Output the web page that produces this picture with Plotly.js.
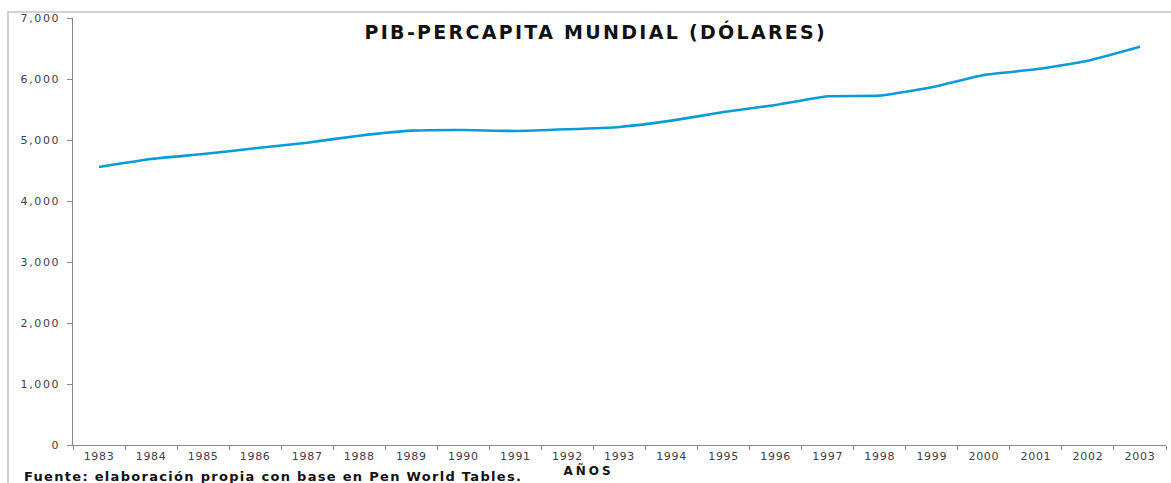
<!DOCTYPE html>
<html>
<head>
<meta charset="utf-8">
<script src="https://cdn.plot.ly/plotly-3.0.1.min.js"></script>
<style>
html,body{margin:0;padding:0;background:#fff;}
#chart{width:1171px;height:483px;}
</style>
</head>
<body>
<div id="chart"></div>
<script>
const years = ["1983","1984","1985","1986","1987","1988","1989","1990","1991","1992","1993","1994","1995","1996","1997","1998","1999","2000","2001","2002","2003"];
const pibPercapita = [4557,4689,4770,4864,4956,5071,5153,5164,5148,5175,5213,5317,5459,5574,5716,5727,5864,6066,6159,6300,6530];
const yTickVals = [0,1000,2000,3000,4000,5000,6000,7000];
const yTickText = ["0","1,000","2,000","3,000","4,000","5,000","6,000","7,000"];

const W = 1171, H = 483, ml = 73, mr = 5, mt = 18, mb = 38;
const pw = W - ml - mr, ph = H - mt - mb;
const px = v => (v - ml) / pw;
const py = v => (H - mb - v) / ph;

const trace = {
  x: years, y: pibPercapita, type: 'scatter', mode: 'lines',
  line: {color: '#0b9bd9', width: 2.6, shape: 'spline', smoothing: 0.4},
  hoverinfo: 'x+y'
};

const tickFont = {family: 'DejaVu Sans, Verdana, sans-serif', size: 11, color: '#404050'};

const layout = {
  width: W, height: H,
  margin: {l: ml, r: mr, t: mt, b: mb, pad: 0},
  paper_bgcolor: '#ffffff', plot_bgcolor: '#ffffff',
  showlegend: false,
  xaxis: {
    type: 'category', tickson: 'boundaries', ticks: 'outside', ticklen: 4, tickcolor: '#888',
    showline: true, linecolor: '#888', linewidth: 1.3, showgrid: false, zeroline: false,
    tickfont: tickFont, range: [-0.5, 20.5], fixedrange: true
  },
  yaxis: {
    range: [0, 7000], tickvals: yTickVals, ticktext: yTickText, ticks: 'outside', ticklen: 5,
    tickcolor: '#888', showline: true, linecolor: '#888', linewidth: 1.3, showgrid: false,
    zeroline: false, tickfont: tickFont, ticklabelstandoff: 6, fixedrange: true
  },
  shapes: [{
    type: 'rect', xref: 'paper', yref: 'paper',
    x0: px(8), x1: px(1175), y0: py(490), y1: py(12),
    line: {color: '#c4c4c4', width: 1.5}, fillcolor: 'rgba(0,0,0,0)', layer: 'below'
  }],
  annotations: [
    {text: '<b>PIB-PERCAPITA MUNDIAL (DÓLARES)</b>', xref: 'paper', yref: 'paper',
     x: px(594), y: py(31), xanchor: 'center', yanchor: 'middle', showarrow: false,
     font: {family: 'DejaVu Sans, Verdana, sans-serif', size: 19, color: '#111'}},
    {text: '<b>AÑOS</b>', xref: 'paper', yref: 'paper',
     x: px(587), y: py(470), xanchor: 'center', yanchor: 'middle', showarrow: false,
     font: {family: 'DejaVu Sans, Verdana, sans-serif', size: 12, color: '#111'}},
    {text: '<b>Fuente: elaboración propia con base en Pen World Tables.</b>', xref: 'paper', yref: 'paper',
     x: px(22), y: py(476), xanchor: 'left', yanchor: 'middle', showarrow: false,
     font: {family: 'DejaVu Sans, Verdana, sans-serif', size: 13, color: '#111'}}
  ]
};

// letter spacing (px) and whether the annotation is left-anchored
const spacing = [2.3, 3, 1.3];
const leftAnchored = [false, false, true];
Plotly.newPlot('chart', [trace], layout, {displayModeBar: false, staticPlot: true}).then(gd => {
  gd.querySelectorAll('g.annotation').forEach(g => {
    const i = +g.getAttribute('data-index');
    const t = g.querySelector('text');
    if (!t || spacing[i] === undefined) return;
    const n = t.textContent.length;
    t.style.letterSpacing = spacing[i] + 'px';
    const shift = leftAnchored[i] ? spacing[i] * n / 2 : spacing[i] / 2;
    t.setAttribute('x', (+t.getAttribute('x') + shift).toString());
  });
  gd.querySelectorAll('g.xtick text').forEach(t => { t.style.letterSpacing = '0.7px'; });
  gd.querySelectorAll('g.ytick text').forEach(t => {
    t.style.letterSpacing = '1.6px';
    t.setAttribute('x', (+t.getAttribute('x') + 1.6).toString());
  });
});
</script>
</body>
</html>
